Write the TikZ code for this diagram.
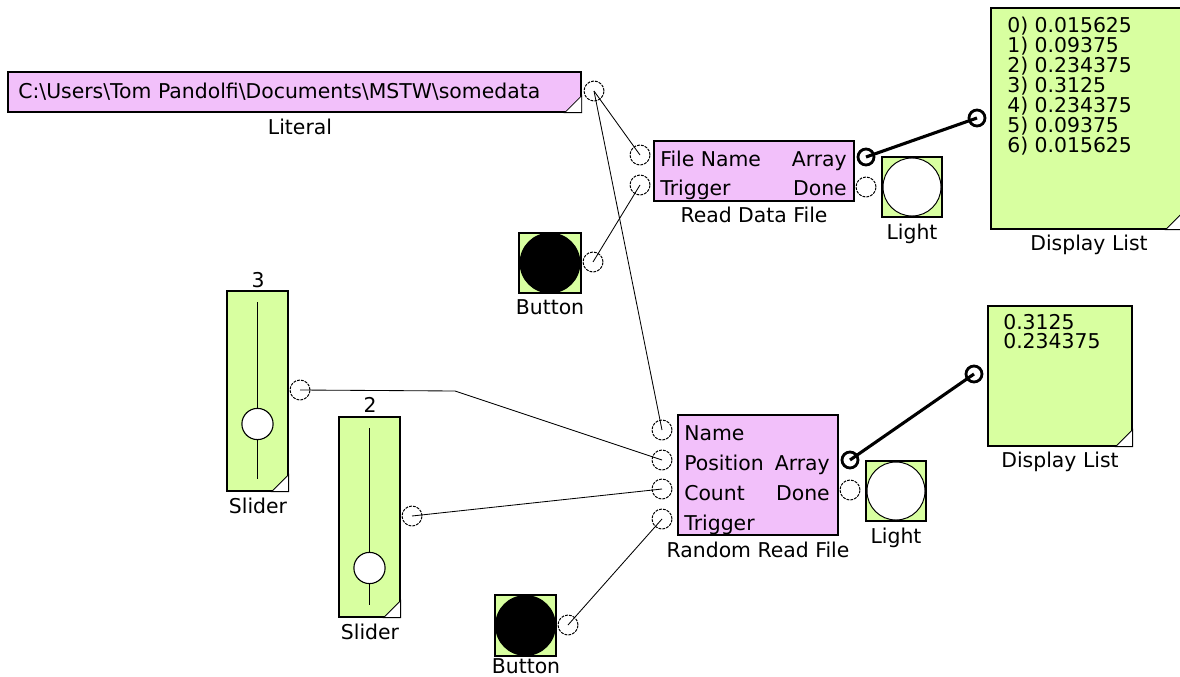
\documentclass[tikz,border=0pt]{standalone}
\usepackage{fontspec}
\setmainfont{DejaVu Sans}
\usetikzlibrary{positioning,calc}
\definecolor{blockpink}{RGB}{242,192,250}
\definecolor{blockgreen}{RGB}{216,255,160}
\newcommand{\boxcorner}[1]{\draw[corner] (#1.south east) -- ++(-17,0) -- ++(17,-17) -- cycle;}

\begin{document}
\begin{tikzpicture}[
    x=0.025cm, y=-0.025cm,
    font=\fontsize{14.5}{14.2}\selectfont,
    pinkbox/.style={rectangle, draw, line width=0.9pt, fill=blockpink, inner sep=0pt},
    greenbox/.style={rectangle, draw, line width=0.9pt, fill=blockgreen, inner sep=0pt},
    port/.style={circle, draw, dash pattern=on 2pt off 0.8pt, line width=0.7pt, minimum size=0.5cm, inner sep=0pt},
    boldport/.style={circle, draw, line width=2pt, minimum size=0.4cm, inner sep=0pt},
    wire/.style={line width=0.6pt},
    boldwire/.style={line width=2.2pt},
    txt/.style={inner sep=0pt, anchor=base west},
    rtxt/.style={inner sep=0pt, anchor=base east},
    caption/.style={inner sep=0pt, anchor=base},
    corner/.style={draw, fill=white, line width=0.6pt},
    lamp/.style={circle, draw, fill=white, line width=0.7pt, minimum size=1.45cm, inner sep=0pt},
    knob/.style={circle, draw, fill=white, line width=0.8pt, minimum size=0.78cm, inner sep=0pt},
    press/.style={circle, fill=black, minimum size=1.52cm, inner sep=0pt},
    track/.style={line width=1.2pt}
]
    \useasboundingbox (0,0) rectangle (1180,677);

    % blocks
    \node[pinkbox, minimum width=14.325cm, minimum height=1cm] (literal) at (294.5,92) {};
    \boxcorner{literal}
    \node[txt] (littext) at (18,98.5) {C:\textbackslash Users\textbackslash Tom Pandolfi\textbackslash Documents\textbackslash MSTW\textbackslash somedata};
    \node[caption] (litcap) at (300,134) {Literal};

    \node[pinkbox, minimum width=5cm, minimum height=1.5cm] (readfile) at (754,171) {};
    \node[txt] (rdfnametxt) at (660,166.5) {File Name};
    \node[txt] (rdftrigtxt) at (660,195.5) {Trigger};
    \node[rtxt] (rdfarrtxt) at (847,166.5) {Array};
    \node[rtxt] (rdfdonetxt) at (847,195.5) {Done};
    \node[caption] (rdfcap) at (754,222.5) {Read Data File};

    \node[greenbox, minimum size=1.5cm] (light1) at (912,187) {};
    \node[lamp] (lamp1) at (light1) {};
    \node[caption] (light1cap) at (912,239.5) {Light};

    \node[greenbox, minimum width=4.775cm, minimum height=5.525cm] (list1) at (1086.5,118.5) {};
    \boxcorner{list1}
    \foreach \v [count=\i from 0] in {0.015625,0.09375,0.234375,0.3125,0.234375,0.09375,0.015625}
        \node[txt] (list1row\i) at (1007,{32.5+20*\i}) {\i) \v};
    \node[caption] (list1cap) at (1089,250.5) {Display List};

    \node[greenbox, minimum width=1.55cm, minimum height=1.5cm] (button1) at (550,263) {};
    \node[press] (press1) at (button1) {};
    \node[caption] (button1cap) at (550,314.5) {Button};

    \node[greenbox, minimum width=1.525cm, minimum height=5cm] (slider1) at (257.5,391) {};
    \boxcorner{slider1}
    \draw[track] ($(slider1.north)+(0,12)$) -- ($(slider1.south)+(0,-13)$);
    \node[knob] (knob1) at (257.5,424) {};
    \node[caption] (slider1val) at (258,287) {3};
    \node[caption] (slider1cap) at (258,513.5) {Slider};

    \node[greenbox, minimum width=1.525cm, minimum height=5cm] (slider2) at (369.5,517) {};
    \boxcorner{slider2}
    \draw[track] ($(slider2.north)+(0,12)$) -- ($(slider2.south)+(0,-13)$);
    \node[knob] (knob2) at (369.5,568) {};
    \node[caption] (slider2val) at (370,412.5) {2};
    \node[caption] (slider2cap) at (370,639.5) {Slider};

    \node[pinkbox, minimum width=4cm, minimum height=3cm] (randfile) at (758,475) {};
    \node[txt] (rrfnametxt) at (684,440.5) {Name};
    \node[txt] (rrfpostxt) at (684,470.5) {Position};
    \node[txt] (rrfcounttxt) at (684,500.5) {Count};
    \node[txt] (rrftrigtxt) at (684,530.5) {Trigger};
    \node[rtxt] (rrfarrtxt) at (830,470.5) {Array};
    \node[rtxt] (rrfdonetxt) at (830,500.5) {Done};
    \node[caption] (rrfcap) at (758,557.5) {Random Read File};

    \node[greenbox, minimum size=1.5cm] (light2) at (896,491) {};
    \node[lamp] (lamp2) at (light2) {};
    \node[caption] (light2cap) at (896,543.5) {Light};

    \node[greenbox, minimum width=3.6cm, minimum height=3.5cm] (list2) at (1060,376) {};
    \boxcorner{list2}
    \node[txt] (list2row0) at (1003,329.5) {0.3125};
    \node[txt] (list2row1) at (1003,348.5) {0.234375};
    \node[caption] (list2cap) at (1060,467.5) {Display List};

    \node[greenbox, minimum width=1.525cm, minimum height=1.525cm] (button2) at (525.5,625.5) {};
    \node[press] (press2) at (button2) {};
    \node[caption] (button2cap) at (526,673) {Button};

    % ports
    \node[port] (litout) at (594,91) {};
    \node[port] (rdfname) at (640,155) {};
    \node[port] (rdftrig) at (640,185) {};
    \node[boldport] (rdfarr) at (866,157) {};
    \node[port] (rdfdone) at (866,187) {};
    \node[boldport] (list1in) at (977,118) {};
    \node[port] (button1out) at (593,262) {};
    \node[port] (slider1out) at (300,390) {};
    \node[port] (slider2out) at (412,516) {};
    \node[port] (rrfname) at (662,430) {};
    \node[port] (rrfpos) at (662,460) {};
    \node[port] (rrfcount) at (662,489) {};
    \node[port] (rrftrig) at (662,519) {};
    \node[boldport] (rrfarr) at (850,460) {};
    \node[port] (rrfdone) at (850,490) {};
    \node[boldport] (list2in) at (974,374) {};
    \node[port] (button2out) at (568,625) {};
    \coordinate (bend) at (455,391);

    % wires
    \draw[wire] (litout.center) -- (rdfname.center);
    \draw[wire] (litout.center) -- (rrfname.center);
    \draw[wire] (button1out.center) -- (rdftrig.center);
    \draw[wire] (slider1out.center) -- (bend) -- (rrfpos.center);
    \draw[wire] (slider2out.center) -- (rrfcount.center);
    \draw[wire] (button2out.center) -- (rrftrig.center);
    \draw[boldwire] (rdfarr.center) -- (list1in.center);
    \draw[boldwire] (rrfarr.center) -- (list2in.center);
\end{tikzpicture}
\end{document}
